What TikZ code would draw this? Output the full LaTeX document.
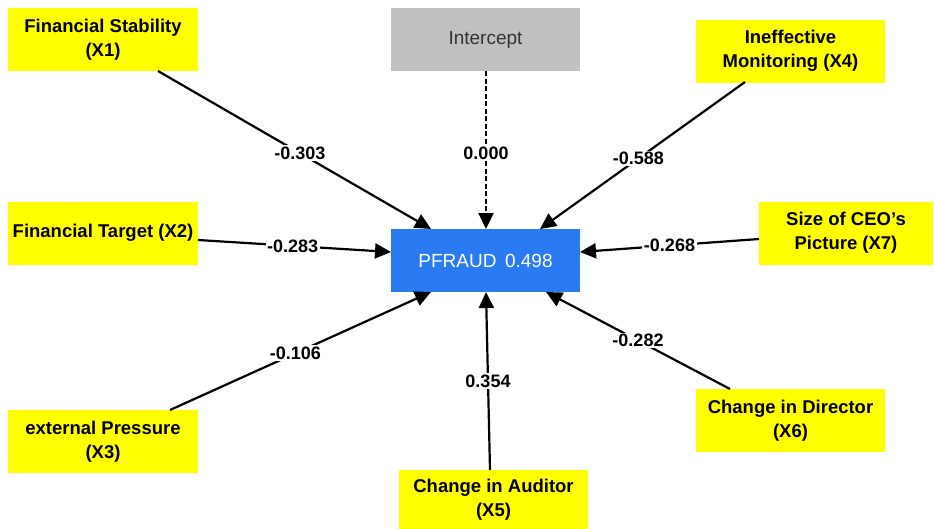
\documentclass[tikz,border=0pt]{standalone}
\usepackage{fontspec}
\setmainfont{Liberation Sans}
\usetikzlibrary{arrows.meta}
\definecolor{ybox}{HTML}{FFFF00}
\definecolor{gbox}{HTML}{C0C0C0}
\definecolor{bbox}{HTML}{2A7AF2}
\begin{document}
\begin{tikzpicture}[x=1pt,y=-1pt,
  ind/.style={fill=ybox,minimum width=190pt,minimum height=63pt,align=center,font=\fontsize{18.5}{24}\selectfont\bfseries,inner sep=0pt},
  icpt/.style={fill=gbox,minimum width=189pt,minimum height=63pt,font=\fontsize{19}{22}\selectfont,text=black!80,inner sep=0pt},
  dep/.style={fill=bbox,minimum width=189pt,minimum height=63pt,font=\fontsize{19}{22}\selectfont,text=white,inner sep=0pt},
  conn/.style={line width=2.2pt,-{Triangle[length=16pt,width=15pt]}},
  coef/.style={fill=white,inner sep=1.5pt,font=\fontsize{18}{21}\selectfont\bfseries}]
\useasboundingbox (0,0) rectangle (934,528);
\node[ind] (x1) at (103,39.5) {Financial Stability\\(X1)};
\node[icpt] (ic) at (485.5,39.5) {Intercept};
\node[ind,minimum width=189pt] (x4) at (790.5,51) {Ineffective\\Monitoring (X4)};
\node[ind] (x2) at (103,233) {Financial Target (X2)};
\node[ind,minimum width=174pt] (x7) at (846,233) {Size of CEO's\\Picture (X7)};
\node[ind] (x3) at (103,441.5) {external Pressure\\(X3)};
\node[ind,minimum width=189pt,minimum height=60pt] (x5) at (493.5,500) {Change in Auditor\\(X5)};
\node[ind,minimum width=189pt] (x6) at (790.5,420.5) {Change in Director\\(X6)};
\node[dep] (pf) at (485.5,260.5) {PFRAUD\hspace{0.45em}0.498};
\coordinate (x1s) at (158,71);
\coordinate (x1e) at (431,229);
\coordinate (ics) at (486,71);
\coordinate (ice) at (486,229);
\coordinate (x4s) at (745,82);
\coordinate (x4e) at (540,229);
\coordinate (x2s) at (198,240);
\coordinate (x2e) at (391,252);
\coordinate (x7s) at (759,239);
\coordinate (x7e) at (580,252);
\coordinate (x3s) at (170,410);
\coordinate (x3e) at (431,292);
\coordinate (x5s) at (490,470);
\coordinate (x5e) at (486,292);
\coordinate (x6s) at (730,389);
\coordinate (x6e) at (546,292);
\draw[conn] (x1s) -- node[coef,pos=0.52] {-0.303} (x1e);
\draw[conn,dashed,dash pattern=on 5pt off 2.5pt] (ics) -- node[coef,pos=0.52] {0.000} (ice);
\draw[conn] (x4s) -- node[coef,pos=0.52] {-0.588} (x4e);
\draw[conn] (x2s) -- node[coef,pos=0.49] {-0.283} (x2e);
\draw[conn] (x7s) -- node[coef,pos=0.50] {-0.268} (x7e);
\draw[conn] (x3s) -- node[coef,pos=0.48] {-0.106} (x3e);
\draw[conn] (x5s) -- node[coef,pos=0.50] {0.354} (x5e);
\draw[conn] (x6s) -- node[coef,pos=0.50] {-0.282} (x6e);
\end{tikzpicture}
\end{document}
